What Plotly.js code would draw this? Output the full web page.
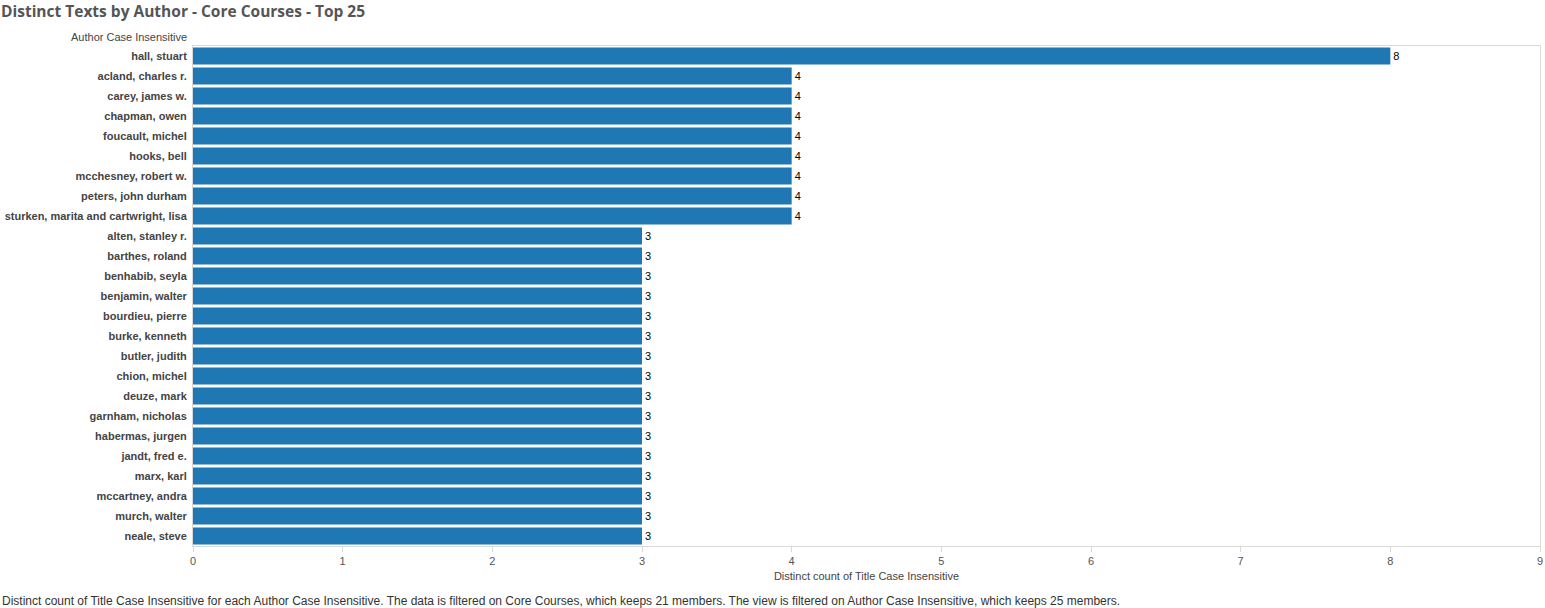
<!DOCTYPE html>
<html>
<head>
<meta charset="utf-8">
<script src="https://cdn.plot.ly/plotly-3.0.1.min.js"></script>
<style>
  html, body { margin: 0; padding: 0; background: #fff; }
  #chart { width: 1545px; height: 608px; }
</style>
</head>
<body>
<div id="chart"></div>
<script>
const authors = [
  "hall, stuart",
  "acland, charles r.",
  "carey, james w.",
  "chapman, owen",
  "foucault, michel",
  "hooks, bell",
  "mcchesney, robert w.",
  "peters, john durham",
  "sturken, marita and cartwright, lisa",
  "alten, stanley r.",
  "barthes, roland",
  "benhabib, seyla",
  "benjamin, walter",
  "bourdieu, pierre",
  "burke, kenneth",
  "butler, judith",
  "chion, michel",
  "deuze, mark",
  "garnham, nicholas",
  "habermas, jurgen",
  "jandt, fred e.",
  "marx, karl",
  "mccartney, andra",
  "murch, walter",
  "neale, steve"
];
const counts = [8, 4, 4, 4, 4, 4, 4, 4, 4, 3, 3, 3, 3, 3, 3, 3, 3, 3, 3, 3, 3, 3, 3, 3, 3];
const xTicks = [0, 1, 2, 3, 4, 5, 6, 7, 8, 9];

const trace = {
  type: 'bar',
  orientation: 'h',
  y: authors,
  x: counts,
  marker: { color: '#1f77b4' },
  text: counts.map(String),
  textposition: 'outside',
  cliponaxis: false,
  textfont: { family: 'Liberation Sans, Arial, sans-serif', size: 11, color: '#000' },
  hoverinfo: 'x+y'
};

const layout = {
  width: 1545,
  height: 608,
  margin: { l: 193, r: 5, t: 46, b: 62 },
  paper_bgcolor: '#fff',
  plot_bgcolor: '#fff',
  bargap: 0.15,
  showlegend: false,
  font: { family: 'Liberation Sans, Arial, sans-serif', size: 11, color: '#333' },
  title: {
    text: '<b>Distinct Texts by Author - Core Courses - Top 25</b>',
    x: 0, xref: 'container', xanchor: 'left',
    y: 0.99, yref: 'container', yanchor: 'top', pad: { l: 1 },
    font: { family: 'Open Sans, DejaVu Sans, sans-serif', size: 15.5, color: '#555' }
  },
  xaxis: {
    range: [0, 9],
    tickvals: xTicks,
    ticktext: xTicks.map(String),
    showgrid: false,
    zeroline: false,
    showline: true,
    mirror: true,
    linecolor: '#d9d9d9',
    linewidth: 1,
    ticks: 'outside',
    ticklen: 5,
    tickcolor: '#d9d9d9',
    tickfont: { size: 11, color: '#555' },
    title: { text: 'Distinct count of Title Case Insensitive', font: { size: 11, color: '#444' }, standoff: 6 },
    fixedrange: true
  },
  yaxis: {
    type: 'category',
    autorange: 'reversed',
    showgrid: false,
    zeroline: false,
    showline: true,
    mirror: true,
    linecolor: '#d9d9d9',
    ticks: '',
    ticklabelstandoff: 3,
    tickfont: { size: 11, color: '#444', weight: 'bold' },
    fixedrange: true
  },
  annotations: [
    {
      text: 'Author Case Insensitive',
      xref: 'paper', yref: 'paper',
      x: 0, y: 1, xanchor: 'right', yanchor: 'bottom',
      xshift: -4, yshift: 1,
      showarrow: false,
      font: { size: 11, color: '#444' }
    },
    {
      text: 'Distinct count of Title Case Insensitive for each Author Case Insensitive. The data is filtered on Core Courses, which keeps 21 members. The view is filtered on Author Case Insensitive, which keeps 25 members.',
      xref: 'paper', yref: 'paper',
      x: 0, y: 0, xanchor: 'left', yanchor: 'top',
      xshift: -193, yshift: -46,
      showarrow: false,
      font: { size: 12, color: '#333' }
    }
  ]
};

Plotly.newPlot('chart', [trace], layout, { displayModeBar: false });
</script>
</body>
</html>
